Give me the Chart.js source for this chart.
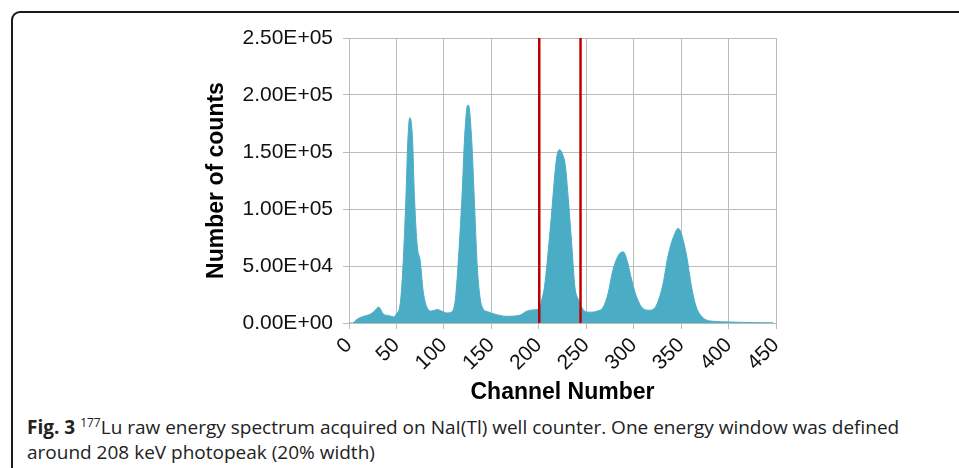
<!DOCTYPE html>
<html>
<head>
<meta charset="utf-8">
<script src="https://cdn.jsdelivr.net/npm/chart.js@4"></script>
<style>
  html, body { margin: 0; padding: 0; background: #fff; }
  body { width: 959px; height: 468px; position: relative; overflow: hidden; }
  #frame {
    position: absolute; left: 11px; top: 11px; width: 1000px; height: 500px;
    border-top: 2px solid #1a1a1a; border-left: 2px solid #1a1a1a;
    border-top-left-radius: 9px;
  }
  #wrap { position: absolute; left: 0; top: 0; width: 959px; height: 410px; }
  #caption {
    position: absolute; left: 27px; top: 415px;
    font-family: "Open Sans", sans-serif; font-size: 19px; line-height: 25px; color: #222;
  }
  #caption sup { font-size: 12px; vertical-align: 7px; line-height: 0; }
</style>
</head>
<body>
<div id="frame"></div>
<div id="wrap"><canvas id="chart"></canvas></div>
<div id="caption"><b>Fig. 3</b> <sup>177</sup>Lu raw energy spectrum acquired on NaI(Tl) well counter. One energy window was defined<br>around 208 keV photopeak (20% width)</div>
<script>
// spectrum
const channels = [0, 4, 8, 14, 22, 26, 29, 31, 33, 36, 42, 47, 50, 54, 57, 60, 62, 64, 65, 67, 69, 72, 75, 78, 82,
  87, 93, 98, 103, 108, 112, 115, 119, 122, 125, 126, 129, 132, 135, 138, 141, 146, 152, 166, 180, 187, 194,
  200, 201, 203, 206, 212, 219, 222, 224, 228, 231, 235, 238, 242, 245, 250, 256, 261, 268, 273, 278, 284,
  289, 293, 298, 303, 310, 317, 324, 331, 336, 342, 347, 350, 356, 361, 366, 373, 384, 400, 412, 430, 447];
const counts = [0, 0, 3000, 5500, 7500, 9800, 12500, 14000, 12500, 8000, 6500, 5300, 8000, 17000, 52000, 110000,
  160000, 180000, 179000, 160000, 110000, 67000, 55000, 29000, 14000,
  10500, 11800, 10300, 8800, 9700, 20000, 52000, 110000, 165000, 191000, 191000, 165000, 110000, 52000, 23000,
  13000, 10000, 8200, 5900, 6800, 10300, 11500,
  11800, 12500, 20000, 31600, 81500, 146000, 152000, 150000, 138000, 110000, 66000, 32000, 20000, 14000, 9700,
  9500, 10300, 14000, 25800, 46000, 59500,
  62400, 55000, 37500, 23000, 12600, 11200, 15600, 34600, 58000, 75600, 83000, 79000, 58000, 31600, 14000, 4700,
  1500, 900, 600, 300, 150];
const windowEdges = [200.5, 244];
const xTicks = [0, 50, 100, 150, 200, 250, 300, 350, 400, 450];
const yTicks = [0, 50000, 100000, 150000, 200000, 250000];

function sci(v) {
  const [m, e] = v.toExponential(2).split('e');
  return m + 'E' + e[0] + e.slice(1).padStart(2, '0');
}

const gridColor = '#bcbcbc';
const spectrum = channels.map((c, i) => ({ x: c, y: counts[i] }));
const windowSets = windowEdges.map(c => ({
  data: [{ x: c, y: 0 }, { x: c, y: yTicks[yTicks.length - 1] }],
  borderColor: '#c00000',
  borderWidth: 2.5,
  pointRadius: 0,
  fill: false,
  order: 1,
}));

new Chart(document.getElementById('chart'), {
  type: 'line',
  data: {
    datasets: [
      ...windowSets,
      {
        data: spectrum,
        borderColor: '#4bacc6',
        backgroundColor: '#4bacc6',
        borderWidth: 1,
        pointRadius: 0,
        fill: 'origin',
        cubicInterpolationMode: 'monotone',
        order: 2,
      },
    ],
  },
  options: {
    responsive: true,
    maintainAspectRatio: false,
    animation: false,
    layout: { padding: { left: 203, right: 183, top: 38, bottom: 4 } },
    plugins: {
      legend: { display: false },
      tooltip: { enabled: false },
    },
    scales: {
      x: {
        type: 'linear',
        min: xTicks[0],
        max: xTicks[xTicks.length - 1],
        afterBuildTicks: s => { s.ticks = xTicks.map(v => ({ value: v })); },
        afterFit: s => { s.height = 83; },
        grid: { color: gridColor, tickLength: 6 },
        border: { color: gridColor },
        ticks: {
          maxRotation: 45, minRotation: 45, padding: 4,
          color: '#111',
          font: { family: 'Liberation Sans', size: 21 },
        },
        title: {
          display: true, text: 'Channel Number', color: '#000', padding: 0,
          font: { family: 'Liberation Sans', size: 23, weight: 'bold' },
        },
      },
      y: {
        min: yTicks[0],
        max: yTicks[yTicks.length - 1],
        afterBuildTicks: s => { s.ticks = yTicks.map(v => ({ value: v })); },
        afterFit: s => { s.width = 146; },
        grid: { color: gridColor, tickLength: 6 },
        border: { color: gridColor },
        ticks: {
          callback: v => sci(v), padding: 10,
          color: '#111',
          font: { family: 'Liberation Sans', size: 21 },
        },
        title: {
          display: true, text: 'Number of counts', color: '#000', padding: 0,
          font: { family: 'Liberation Sans', size: 23, weight: 'bold' },
        },
      },
    },
  },
});
</script>
</body>
</html>
